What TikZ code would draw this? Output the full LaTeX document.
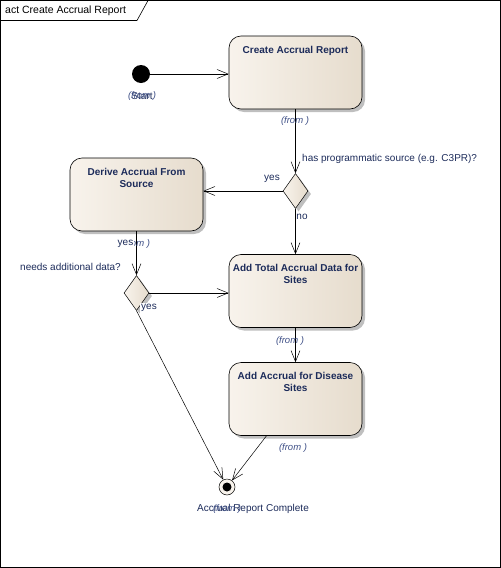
\documentclass[tikz,border=0pt]{standalone}
\usepackage{fontspec}
\setmainfont{Liberation Sans}
\usetikzlibrary{arrows.meta,positioning,shapes.geometric,shadows}
\definecolor{acrNavy}{HTML}{1C2B5A}
\definecolor{acrFrom}{HTML}{3E4F86}
\definecolor{acrLight}{HTML}{F8F3EC}
\definecolor{acrDark}{HTML}{E6DCCD}

\begin{document}
\begin{tikzpicture}[x=1pt,y=-1pt,font=\fontsize{10}{12}\selectfont,
  actshadow/.style={drop shadow={shadow xshift=3pt,shadow yshift=-3pt,fill=black!25,opacity=1}},
  actbox/.style={draw,line width=0.6pt,rounded corners=12pt,left color=acrLight,right color=acrDark,
    minimum width=133pt,minimum height=73pt,inner sep=0pt,actshadow},
  acttitle/.style={font=\fontsize{10}{12}\selectfont\bfseries,text=acrNavy,align=center,anchor=north},
  decision/.style={diamond,draw,line width=0.5pt,left color=acrLight,right color=acrDark,
    minimum width=25pt,minimum height=35pt,inner sep=0pt,actshadow},
  startnode/.style={circle,fill=black,minimum size=18pt,inner sep=0pt},
  endnode/.style={circle,draw,line width=0.5pt,fill=acrLight,minimum size=16pt,inner sep=0pt,
    path picture={\fill[black] (path picture bounding box.center) circle (4.5pt);}},
  fromlbl/.style={font=\fontsize{9.5}{11}\selectfont\itshape,text=acrFrom,inner sep=1pt},
  guard/.style={text=acrNavy,inner sep=1pt},
  flow/.style={-{Straight Barb[length=11pt,width=9pt]},line width=0.5pt},
]
\useasboundingbox (0,0) rectangle (501,568);
% frame and tab
\draw[line width=0.6pt] (0.5,0.5) rectangle (500.5,567.5);
\draw[line width=0.6pt] (0.5,20.5) -- (137,20.5) -- (148,0.5);
\node[anchor=west,inner sep=0pt,font=\fontsize{10.5}{12}\selectfont] (frametitle) at (5,10.5) {act Create Accrual Report};

% nodes
\node[startnode] (start) at (141,74) {};
\node[actbox] (create) at (295.5,72.5) {};
\node[acttitle] (createT) at ([yshift=-7pt]create.north) {Create Accrual Report};
\node[decision] (dec1) at (295.5,191) {};
\node[actbox] (derive) at (136.5,194.5) {};
\node[acttitle] (deriveT) at ([yshift=-7pt]derive.north) {Derive Accrual From\\Source};
\node[decision] (dec2) at (136.5,293) {};
\node[actbox] (total) at (295.5,291) {};
\node[acttitle] (totalT) at ([yshift=-7pt]total.north) {Add Total Accrual Data for\\Sites};
\node[actbox] (disease) at (295.5,399) {};
\node[acttitle] (diseaseT) at ([yshift=-7pt]disease.north) {Add Accrual for Disease\\Sites};
\node[endnode] (final) at (227,487) {};

% flows
\draw[flow] (start) -- (start -| create.west);
\draw[flow] (create.south) -- (dec1.north);
\draw[flow] (dec1.west) -- (dec1.west -| derive.east);
\draw[flow] (dec1.south) -- (total.north);
\draw[flow] (derive.south) -- (dec2.north);
\draw[flow] (dec2.east) -- (dec2.east -| total.west);
\draw[flow] (dec2.south) -- (final);
\draw[flow] (total.south) -- (disease.north);
\draw[flow] ([xshift=-29pt]disease.south) -- (final);

% labels
\node[guard] (startL) at (142,96) {Start};
\node[fromlbl] (startF) at (142,96) {(from )};
\node[fromlbl] (createF) at (295,121) {(from )};
\node[guard,anchor=west] (dec1L) at (301,159) {has programmatic source (e.g. C3PR)?};
\node[guard] (dec1Y) at (272,179) {yes};
\node[guard] (dec1N) at (302,217) {no};
\node[fromlbl] (deriveF) at (136,244) {(from )};
\node[guard,fill=white] (deriveY) at (125.5,244) {yes};
\node[guard,anchor=west] (dec2L) at (19,267) {needs additional data?};
\node[guard,fill=white] (dec2Y) at (149,308) {yes};
\node[fromlbl] (totalF) at (290,341) {(from )};
\node[fromlbl] (diseaseF) at (293,448) {(from )};
\node[guard] (finalL) at (253,509) {Accrual Report Complete};
\node[fromlbl] (finalF) at (227,509) {(from )};
\end{tikzpicture}
\end{document}
